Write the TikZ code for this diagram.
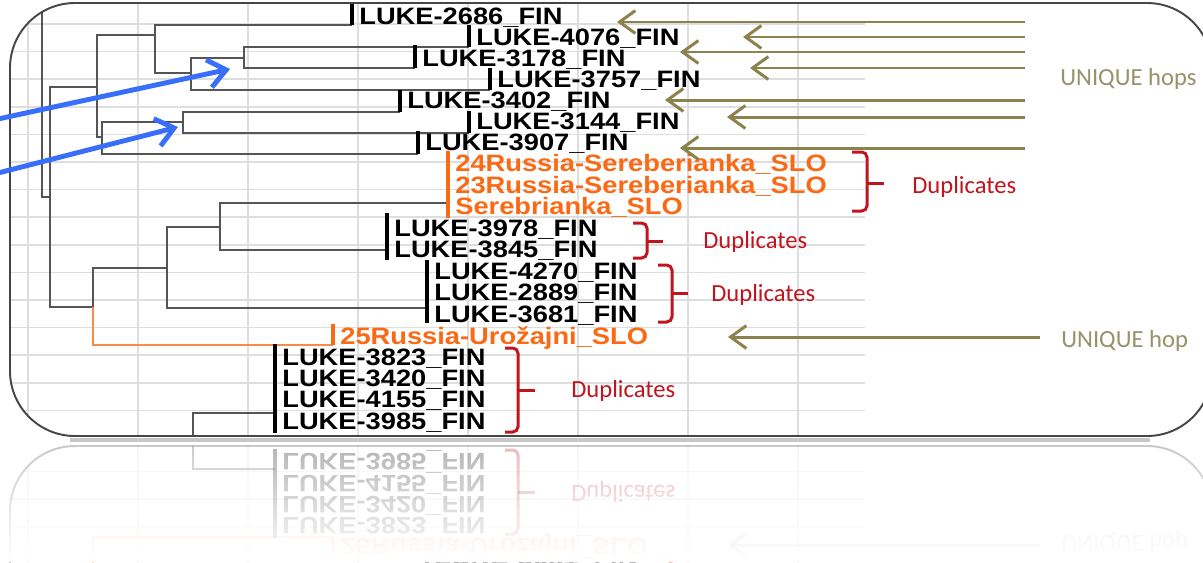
\documentclass[tikz,border=0pt]{standalone}
\usepackage{fontspec}
\usepackage{tikz}
\usetikzlibrary{arrows.meta,calc,fadings}

\newfontfamily\lukefont[FakeStretch=1.15]{Liberation Sans}
\newfontfamily\calfont{Carlito}

\definecolor{gridgrey}{RGB}{222,222,222}
\definecolor{treegrey}{RGB}{85,85,85}
\definecolor{sloorange}{RGB}{250,105,20}
\definecolor{slobranch}{RGB}{248,140,70}
\definecolor{hopolive}{RGB}{140,130,78}
\definecolor{hoptextcol}{RGB}{150,146,106}
\definecolor{dupred}{RGB}{192,20,30}
\definecolor{pointerblue}{RGB}{55,110,250}
\definecolor{framegrey}{RGB}{70,70,70}

\tikzfading[name=reflfade, top color=transparent!100, bottom color=transparent!0]

% everything inside the rounded frame (drawn twice: sheet and reflection)
\newcommand{\sheetbody}{%
    % Spreadsheet grid
    \draw[gridline, shift={(28,24)}, xstep=2.2cm, ystep=0.552cm] (-30,-40) grid (837,420);

    % Tree joints
    \coordinate (rtop) at (42,12);
    \coordinate (j50) at (50,197);
    \coordinate (j97) at (97,87);
    \coordinate (j93) at (93,307);
    \coordinate (j155) at (155,35);
    \coordinate (j102) at (102,137);
    \coordinate (j191) at (191,73);
    \coordinate (j244) at (244,58);
    \coordinate (j183) at (183,122);
    \coordinate (j167) at (167,268);
    \coordinate (j220) at (220,227);
    \coordinate (jbot) at (193,445);

    % Leaf ends
    \coordinate (e2686) at (352,25);
    \coordinate (e4076) at (469,47);
    \coordinate (e3178) at (415,68);
    \coordinate (e3757) at (490,90);
    \coordinate (e3402) at (400,112);
    \coordinate (e3144) at (469,133);
    \coordinate (e3907) at (418,154);
    \coordinate (esereb) at (448,203);
    \coordinate (e3978) at (387,250);
    \coordinate (e4270) at (427,308);
    \coordinate (e25) at (333,345);
    \coordinate (e3823) at (275,413);

    % Branches
    \draw[branch] (rtop) |- (j50);
    \draw[branch] (j50) |- (j97);
    \draw[branch] (j50) |- (j93);
    \draw[branch] (j97) |- (j155);
    \draw[branch] (j97) |- (j102);
    \draw[branch] (j155) |- (e2686);
    \draw[branch] (j155) |- (j191);
    \draw[branch] (j191) |- (j244);
    \draw[branch] (j191) |- (e3757);
    \draw[branch] (j244) |- (e4076);
    \draw[branch] (j244) |- (e3178);
    \draw[branch] (j102) |- (j183);
    \draw[branch] (j102) |- (e3907);
    \draw[branch] (j183) |- (e3402);
    \draw[branch] (j183) |- (e3144);
    \draw[branch] (j93) |- (j167);
    \draw[slobranch] (j93) |- (e25);
    \draw[branch] (j167) |- (j220);
    \draw[branch] (j167) |- (e4270);
    \draw[branch] (j220) |- (esereb);
    \draw[branch] (j220) |- (e3978);
    \draw[branch] (jbot) |- (e3823);

    % Leaf bars
    \draw[finbar] (e2686) -- (352,4);
    \draw[finbar] (e4076) -- (469,25);
    \draw[finbar] (e3178) -- (415,45);
    \draw[finbar] (e3757) -- (490,68);
    \draw[finbar] (e3402) -- (400,90);
    \draw[finbar] (e3144) -- (469,111);
    \draw[finbar] (e3907) -- (418,131);
    \draw[slobar] (448,151) -- (448,218);
    \draw[finbar] (387,213) -- (387,260);
    \draw[finbar] (427,260) -- (427,323);
    \draw[slobar] (e25) -- (333,324);
    \draw[finbar] (275,344) -- (275,433);

    % Leaf labels
    \node[finlabel] (t2686) at (359,24) {LUKE-2686\_FIN};
    \node[finlabel] (t4076) at (476,45) {LUKE-4076\_FIN};
    \node[finlabel] (t3178) at (422,66) {LUKE-3178\_FIN};
    \node[finlabel] (t3757) at (497,87) {LUKE-3757\_FIN};
    \node[finlabel] (t3402) at (407,108) {LUKE-3402\_FIN};
    \node[finlabel] (t3144) at (476,129) {LUKE-3144\_FIN};
    \node[finlabel] (t3907) at (425,150) {LUKE-3907\_FIN};
    \node[slolabel] (t24) at (455,171) {24Russia-Sereberianka\_SLO};
    \node[slolabel] (t23) at (455,193) {23Russia-Sereberianka\_SLO};
    \node[slolabel] (tsereb) at (455,214) {Serebrianka\_SLO};
    \node[finlabel] (t3978) at (394,236) {LUKE-3978\_FIN};
    \node[finlabel] (t3845) at (394,257) {LUKE-3845\_FIN};
    \node[finlabel] (t4270) at (434,279) {LUKE-4270\_FIN};
    \node[finlabel] (t2889) at (434,300) {LUKE-2889\_FIN};
    \node[finlabel] (t3681) at (434,322) {LUKE-3681\_FIN};
    \node[slolabel] (t25) at (340,344) {25Russia-Urožajni\_SLO};
    \node[finlabel] (t3823) at (282,365) {LUKE-3823\_FIN};
    \node[finlabel] (t3420) at (282,386) {LUKE-3420\_FIN};
    \node[finlabel] (t4155) at (282,407) {LUKE-4155\_FIN};
    \node[finlabel] (t3985) at (282,429) {LUKE-3985\_FIN};

    % Duplicate braces
    \draw[dupbrace] (852,152) -- (867,152) -- (867,211) -- (852,211);
    \draw[dupbrace] (867,183) -- (884,183);
    \draw[dupbrace] (633,223) -- (647,223) -- (647,258) -- (633,258);
    \draw[dupbrace] (647,241) -- (663,241);
    \draw[dupbrace] (658,265) -- (672,265) -- (672,322) -- (658,322);
    \draw[dupbrace] (672,293) -- (688,293);
    \draw[dupbrace] (505,348) -- (518,348) -- (518,432) -- (505,432);
    \draw[dupbrace] (518,390) -- (535,390);
    \node[duptext] (dup1) at (912,193) {Duplicates};
    \node[duptext] (dup2) at (703,248) {Duplicates};
    \node[duptext] (dup3) at (711,301) {Duplicates};
    \node[duptext] (dup4) at (571,397) {Duplicates};

    % Unique hop arrows
    \coordinate (hop1a) at (1025,22);  \coordinate (hop1b) at (617,22);
    \coordinate (hop2a) at (1025,37);  \coordinate (hop2b) at (743,37);
    \coordinate (hop3a) at (1025,52);  \coordinate (hop3b) at (680,52);
    \coordinate (hop4a) at (1025,68);  \coordinate (hop4b) at (750,68);
    \coordinate (hop5a) at (1025,100); \coordinate (hop5b) at (665,100);
    \coordinate (hop6a) at (1025,117); \coordinate (hop6b) at (727,117);
    \coordinate (hop7a) at (1025,148); \coordinate (hop7b) at (680,148);
    \coordinate (hop8a) at (1040,337); \coordinate (hop8b) at (728,337);
    \draw[hop] (hop1a) -- (hop1b);
    \draw[hop] (hop2a) -- (hop2b);
    \draw[hop] (hop3a) -- (hop3b);
    \draw[hop] (hop4a) -- (hop4b);
    \draw[hop] (hop5a) -- (hop5b);
    \draw[hop] (hop6a) -- (hop6b);
    \draw[hop] (hop7a) -- (hop7b);
    \draw[hop] (hop8a) -- (hop8b);
    \node[hoptext] (uniq1) at (1060,85) {UNIQUE hops};
    \node[hoptext] (uniq2) at (1061,347) {UNIQUE hop};
}

\begin{document}
\begin{tikzpicture}[
        x=0.02cm, y=-0.02cm,
        gridline/.style={draw=gridgrey, line width=0.9pt},
        branch/.style={draw=treegrey, line width=0.8pt},
        slobranch/.style={draw=slobranch, line width=0.8pt},
        finbar/.style={draw=black, line width=2pt},
        slobar/.style={draw=sloorange, line width=2pt},
        finlabel/.style={anchor=base west, inner sep=0pt, font=\lukefont\bfseries\fontsize{13.5}{15}\selectfont},
        slolabel/.style={finlabel, text=sloorange},
        duptext/.style={anchor=base west, inner sep=0pt, text=dupred, font=\calfont\fontsize{14}{16}\selectfont},
        hoptext/.style={duptext, text=hoptextcol},
        dupbrace/.style={draw=dupred, line width=1.7pt, rounded corners=3pt},
        hop/.style={draw=hopolive, line width=1.7pt, -{Straight Barb[length=9pt, width=13pt]}},
        pointer/.style={draw=pointerblue, line width=2.8pt, -{Straight Barb[length=10pt, width=16pt]}},
        frame/.style={draw=framegrey, line width=1.1pt, rounded corners=1.3cm}
    ]
    \fill[white] (0,0) rectangle (1203,562);
    \useasboundingbox (0,0) rectangle (1203,562);

    % Sheet
    \begin{scope}
        \clip[rounded corners=1.3cm] (10,3) rectangle (1212,436);
        \sheetbody
    \end{scope}
    \draw[black!22, line width=2pt] (70,440) -- (1150,440);
    \draw[frame] (10,3) rectangle (1212,436);

    % Reflection
    \begin{scope}
        \clip (0,441) rectangle (1203,562);
        \begin{scope}[shift={(0,882)}, yscale=-1, opacity=0.3, every node/.append style={transform shape}]
            \begin{scope}
                \clip[rounded corners=1.3cm] (10,3) rectangle (1212,436);
                \sheetbody
            \end{scope}
            \draw[frame] (10,3) rectangle (1212,436);
        \end{scope}
    \end{scope}
    \fill[white, path fading=reflfade] (0,441) rectangle (1203,562);

    % Pointers
    \coordinate (ptr1a) at (-2,119);
    \coordinate (ptr1b) at (230,69);
    \coordinate (ptr2a) at (-2,173);
    \coordinate (ptr2b) at (178,127);
    \draw[pointer] (ptr1a) -- (ptr1b);
    \draw[pointer] (ptr2a) -- (ptr2b);
\end{tikzpicture}
\end{document}
